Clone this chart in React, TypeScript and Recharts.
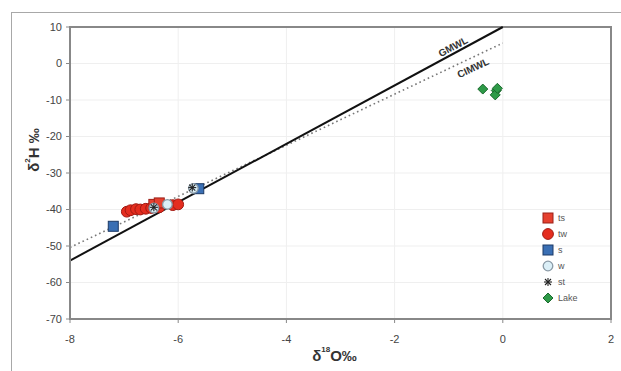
import React from 'react';
import {
  ScatterChart, Scatter, XAxis, YAxis, CartesianGrid, ReferenceLine,
  ReferenceDot, ReferenceArea,
} from 'recharts';

const xTicks = [-8, -6, -4, -2, 0, 2];
const yTicks = [10, 0, -10, -20, -30, -40, -50, -60, -70];

const twData = [
  { x: -6.95, y: -40.6 }, { x: -6.88, y: -40.2 }, { x: -6.78, y: -39.9 },
  { x: -6.7, y: -40.0 }, { x: -6.6, y: -39.8 }, { x: -6.5, y: -39.6 },
  { x: -6.35, y: -39.4 }, { x: -6.1, y: -38.8 }, { x: -6.0, y: -38.6 },
];
const tsData = [{ x: -6.45, y: -38.6 }, { x: -6.35, y: -38.2 }];
const sData = [{ x: -7.2, y: -44.6 }, { x: -5.62, y: -34.3 }];
const wData = [{ x: -6.45, y: -39.6 }, { x: -6.2, y: -38.6 }, { x: -5.72, y: -34.2 }];
const stData = [{ x: -6.45, y: -39.4 }, { x: -5.74, y: -34.0 }];
const lakeData = [
  { x: -0.37, y: -7.0 }, { x: -0.12, y: -7.4 }, { x: -0.14, y: -8.6 }, { x: -0.1, y: -6.8 },
];

const gmwl = [{ x: -8, y: -54 }, { x: 0, y: 10 }];
const cimwl = [{ x: -8, y: -50.4 }, { x: 0, y: 5.6 }];
const gmwlLabelPos = { x: -0.92, y: 4.6 };
const cimwlLabelPos = { x: -0.55, y: -1.2 };

const legendNames = ['ts', 'tw', 's', 'w', 'st', 'Lake'];

const FONT = '"Liberation Sans", Arial, sans-serif';

function drawMarker(kind: string, cx: number, cy: number, key?: any) {
  switch (kind) {
    case 'ts':
      return <rect key={key} x={cx - 5} y={cy - 5} width={10} height={10} fill="#e5402f" stroke="#9b2018" strokeWidth={1} />;
    case 'tw':
      return <circle key={key} cx={cx} cy={cy} r={5.4} fill="#e42d1f" stroke="#a21a12" strokeWidth={1} />;
    case 's':
      return <rect key={key} x={cx - 5} y={cy - 5} width={10} height={10} fill="#3a6fb4" stroke="#1d3a66" strokeWidth={1} />;
    case 'w':
      return <circle key={key} cx={cx} cy={cy} r={4.8} fill="#dbeff7" stroke="#8a9aa6" strokeWidth={1.3} />;
    case 'st':
      return (
        <g key={key} stroke="#222" strokeWidth={1.1}>
          <line x1={cx - 4} y1={cy} x2={cx + 4} y2={cy} />
          <line x1={cx} y1={cy - 4} x2={cx} y2={cy + 4} />
          <line x1={cx - 3} y1={cy - 3} x2={cx + 3} y2={cy + 3} />
          <line x1={cx - 3} y1={cy + 3} x2={cx + 3} y2={cy - 3} />
        </g>
      );
    case 'Lake':
    default:
      return <path key={key} d={`M${cx},${cy - 5} L${cx + 5},${cy} L${cx},${cy + 5} L${cx - 5},${cy} Z`} fill="#2e9a48" stroke="#1b6a2e" strokeWidth={1} />;
  }
}

const shapeFor = (kind: string) => (props: any) => drawMarker(kind, props.cx, props.cy);

const LegendBox = () => (
  <svg width={70} height={100} style={{ position: 'absolute', left: 540, top: 210, overflow: 'visible' }}>
    {legendNames.map((n, i) => (
      <g key={n}>
        {drawMarker(n, 8, 8 + i * 16)}
        <text x={18} y={8 + i * 16} dy="0.35em" fontSize={9} fill="#555" fontFamily={FONT}>{n}</text>
      </g>
    ))}
  </svg>
);

const lineLabel = (text: string, angle: number) => (props: any) => {
  const vb = props.viewBox || {};
  const cx = vb.x + (vb.width || 0) / 2;
  const cy = vb.y + (vb.height || 0) / 2;
  return (
    <text x={cx} y={cy} textAnchor="middle" dominantBaseline="central" fontSize={10} fontWeight="bold" fill="#333" fontFamily={FONT} transform={`rotate(${angle}, ${cx}, ${cy})`}>
      {text}
    </text>
  );
};

export default function App() {
  return (
    <div style={{ position: 'fixed', left: 0, top: 0, width: 621, height: 371, overflow: 'hidden', background: '#fff' }}>
      <div style={{ position: 'absolute', left: 11, top: 12, width: 700, height: 500, border: '1.5px solid #a8a8a8', boxSizing: 'border-box' }} />
      <div style={{ position: 'absolute', left: 0, top: 0 }}>
        <ScatterChart width={621} height={371} margin={{ top: 27, right: 10, bottom: 0, left: 0 }} style={{ fontFamily: FONT }}>
          <CartesianGrid stroke="#efefef" strokeWidth={1} />
          <XAxis
            type="number" dataKey="x" domain={[-8, 2]} ticks={xTicks} height={52}
            axisLine={{ stroke: '#888', strokeWidth: 2 }} tickLine={{ stroke: '#888' }} tickSize={4} tickMargin={12}
            tick={{ fontSize: 11, fill: '#444' }} allowDataOverflow
            label={(p: any) => {
              const vb = p.viewBox;
              return (
                <text x={vb.x + vb.width / 2 - 6} y={355} textAnchor="middle" dominantBaseline="central" fontSize={15} fontWeight="bold" fill="#333" fontFamily={FONT}>
                  δ<tspan fontSize={8} dy={-6}>18</tspan><tspan dy={6}>O‰</tspan>
                </text>
              );
            }}
          />
          <YAxis
            type="number" dataKey="y" domain={[-70, 10]} ticks={yTicks} width={70}
            axisLine={{ stroke: '#888', strokeWidth: 2 }} tickLine={{ stroke: '#888' }} tickSize={4} tickMargin={4}
            tick={{ fontSize: 11, fill: '#444' }} allowDataOverflow
            label={() => {
              const x = 33;
              const y = 150;
              return (
                <text x={x} y={y} textAnchor="middle" dominantBaseline="central" fontSize={15} fontWeight="bold" fill="#333" fontFamily={FONT} transform={`rotate(-90, ${x}, ${y})`}>
                  δ<tspan fontSize={8} dy={-6}>2</tspan><tspan dy={6}>H ‰</tspan>
                </text>
              );
            }}
          />
          <ReferenceArea x1={-8} x2={2} y1={-70} y2={10} fill="none" stroke="#888" strokeWidth={2} ifOverflow="visible" />
          <ReferenceLine segment={cimwl} stroke="#777" strokeWidth={1.6} strokeDasharray="1.6 3" ifOverflow="visible" />
          <ReferenceLine segment={gmwl} stroke="#111" strokeWidth={2} ifOverflow="visible" />
          <ReferenceDot x={gmwlLabelPos.x} y={gmwlLabelPos.y} r={0} fill="none" stroke="none" label={lineLabel('GMWL', -28)} />
          <ReferenceDot x={cimwlLabelPos.x} y={cimwlLabelPos.y} r={0} fill="none" stroke="none" label={lineLabel('CIMWL', -25)} />
          <Scatter name="tw" data={twData} shape={shapeFor('tw')} isAnimationActive={false} />
          <Scatter name="ts" data={tsData} shape={shapeFor('ts')} isAnimationActive={false} />
          <Scatter name="s" data={sData} shape={shapeFor('s')} isAnimationActive={false} />
          <Scatter name="w" data={wData} shape={shapeFor('w')} isAnimationActive={false} />
          <Scatter name="st" data={stData} shape={shapeFor('st')} isAnimationActive={false} />
          <Scatter name="Lake" data={lakeData} shape={shapeFor('Lake')} isAnimationActive={false} />
        </ScatterChart>
      </div>
      <LegendBox />
    </div>
  );
}
